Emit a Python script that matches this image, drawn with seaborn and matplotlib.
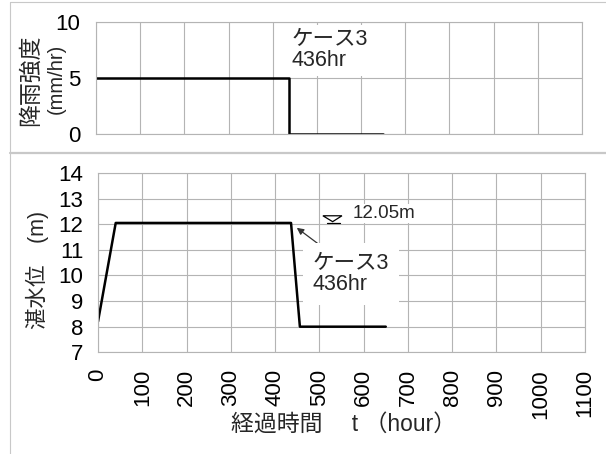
import matplotlib
matplotlib.use("Agg")
import matplotlib.pyplot as plt
from matplotlib.lines import Line2D
from matplotlib.patches import Polygon
import pandas as pd
import seaborn as sns

# rainfall intensity (mm/hr) against elapsed time (hr)
rain_t = [0, 436, 436, 650]
rain_r = [5, 5, 0, 0]

# ponding water level (m) against elapsed time (hr)
level_t = [0, 40, 436, 456, 650]
level_h = [8.2, 12.05, 12.05, 8.0, 8.0]

peak_level = 12.05
case_label = "ケース3\n436hr"
level_label = "12.05m"

x_ticks = list(range(0, 1101, 100))
rain_ticks = [0, 5, 10]
level_ticks = list(range(7, 15))

W, H = 606, 454
GRID = "#b4b4b4"

sns.set_theme(style="white")
plt.rcParams["font.family"] = ["Liberation Sans", "Noto Sans CJK JP"]
plt.rcParams["ytick.major.pad"] = 11.5
plt.rcParams["xtick.major.pad"] = 12

fig = plt.figure(figsize=(W / 100, H / 100), dpi=100)


def px(x, y):
    return x / W, 1 - y / H


def style_axes(ax):
    ax.set_axisbelow(True)
    ax.grid(True, color=GRID, lw=0.8)
    for s in ax.spines.values():
        s.set_color(GRID)
        s.set_linewidth(0.8)
    ax.tick_params(length=0, labelsize=16, colors="black")
    ax.set_xlabel("")
    ax.set_ylabel("")


# ---- rainfall panel ----
ax1 = fig.add_axes([96 / W, 1 - 134 / H, 486 / W, 112 / H])
rain = pd.DataFrame({"t": rain_t, "r": rain_r})
sns.lineplot(data=rain, x="t", y="r", ax=ax1, color="black", lw=1.8,
             estimator=None, sort=False)
ax1.set_xlim(0, 1100)
ax1.set_ylim(0, 10)
ax1.set_xticks(x_ticks)
ax1.set_yticks(rain_ticks)
style_axes(ax1)
ax1.tick_params(axis="x", labelbottom=False)
ax1.text(443, 7.46, case_label, fontsize=15.5, ha="left", va="center",
         linespacing=1.0, zorder=1,
         bbox=dict(boxstyle="square,pad=0.2", fc="white", ec="none"))

# ---- water level panel ----
ax2 = fig.add_axes([98 / W, 1 - 352.3 / H, 487 / W, 179.3 / H])
level = pd.DataFrame({"t": level_t, "h": level_h})
sns.lineplot(data=level, x="t", y="h", ax=ax2, color="black", lw=1.8,
             estimator=None, sort=False)
ax2.set_xlim(0, 1100)
ax2.set_ylim(7, 14)
ax2.set_xticks(x_ticks)
ax2.set_yticks(level_ticks)
style_axes(ax2)
ax2.tick_params(axis="y", pad=10.5)
ax2.tick_params(axis="x", labelrotation=90)

ax2.annotate(case_label, xy=(449, 11.86), xytext=(485, 10.06),
             fontsize=15.5, ha="left", va="center", linespacing=1.0, zorder=1,
             bbox=dict(boxstyle="square,pad=0.45", fc="white", ec="none"),
             arrowprops=dict(arrowstyle="-|>", color="#333333", lw=0.9,
                             mutation_scale=10, shrinkA=0, shrinkB=0,
                             relpos=(0.12, 1.15)))

# water-level mark: inverted triangle with its tip on the peak level
tri = Polygon([(508, peak_level + 0.28), (551, peak_level + 0.28),
               (530, peak_level + 0.05)], closed=True, fill=False,
              ec="black", lw=0.9, zorder=4)
ax2.add_patch(tri)
ax2.plot([517, 546], [peak_level, peak_level], color="black", lw=0.9, zorder=4)
ax2.text(576, peak_level + 0.37, level_label, fontsize=13.5, ha="left",
         va="center", zorder=1,
         bbox=dict(boxstyle="square,pad=0.05", fc="white", ec="none"))

# x-axis title
fig.text(*px(344, 424), "経過時間　 t （hour）", fontsize=16.5,
         ha="center", va="center")

# y-axis titles
fig.text(*px(30, 80), "降雨強度", rotation=90, fontsize=16.5,
         ha="center", va="center")
fig.text(*px(56, 79), "(mm/hr)", rotation=90, fontsize=14.5,
         ha="center", va="center")
fig.text(*px(37, 269.5), "湛水位　(m)", rotation=90, fontsize=15.5,
         ha="center", va="center")

# outer frame and panel separator
frame = "#c8c8c8"
fig.add_artist(Line2D([10 / W, 1], [1 - 2 / H] * 2, color=frame, lw=0.8))
fig.add_artist(Line2D([10 / W] * 2, [0, 1 - 2 / H], color=frame, lw=0.8))
fig.add_artist(Line2D([10 / W, 1], [1 - 153 / H] * 2, color=frame, lw=1.6))

fig.savefig("out.png", dpi=100, facecolor="white")
